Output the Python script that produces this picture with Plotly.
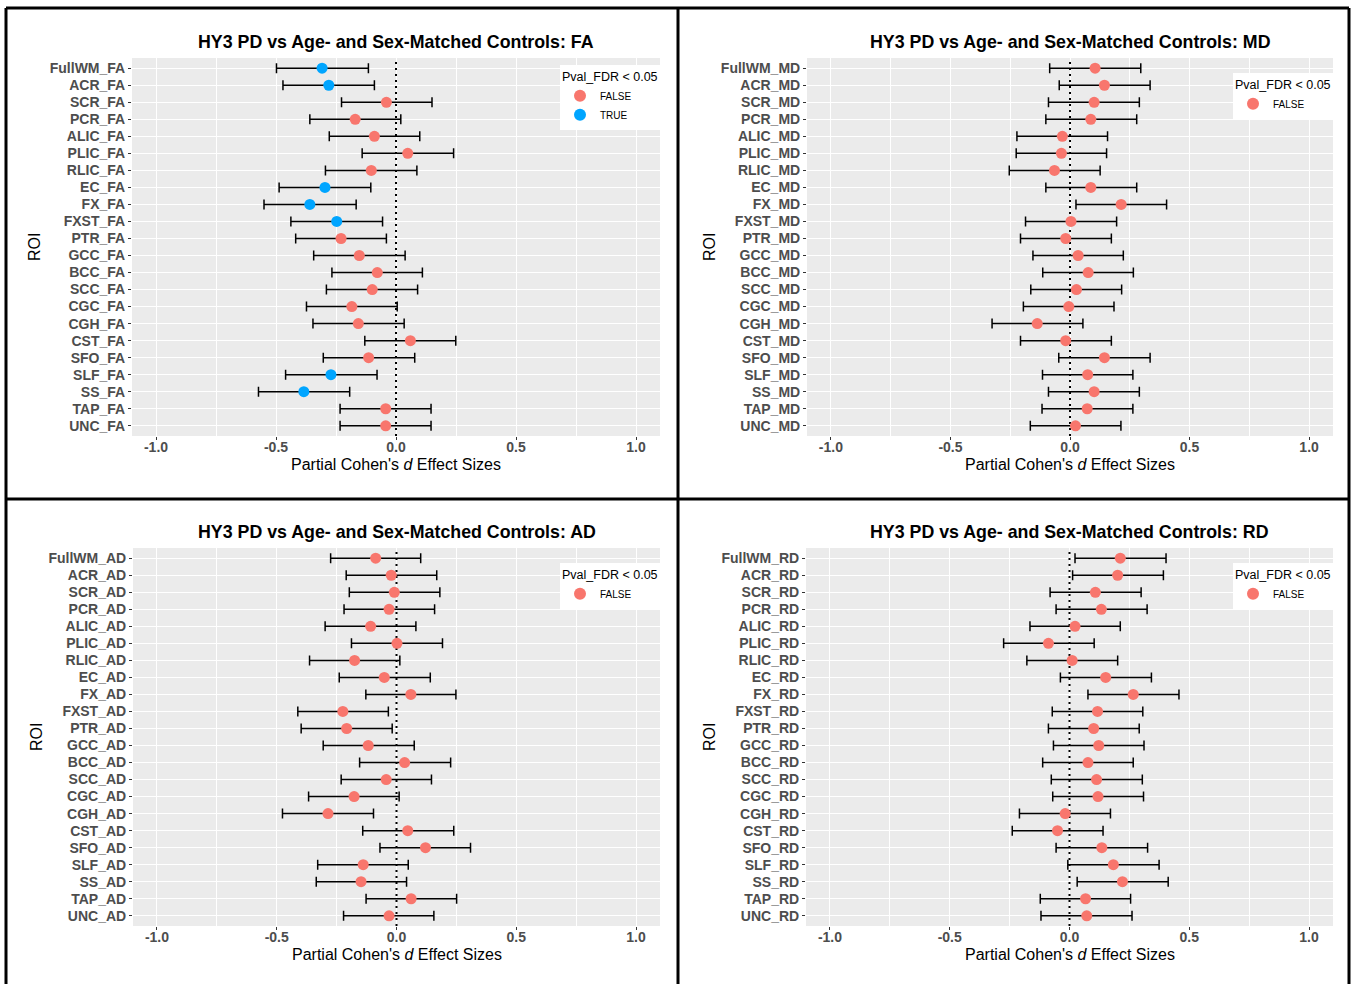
import plotly.graph_objects as go

# ---------------- data ----------------
roi_names = ["FullWM", "ACR", "SCR", "PCR", "ALIC", "PLIC", "RLIC", "EC", "FX", "FXST",
             "PTR", "GCC", "BCC", "SCC", "CGC", "CGH", "CST", "SFO", "SLF", "SS", "TAP", "UNC"]

fa_d = [-0.308, -0.280, -0.040, -0.170, -0.090, 0.049, -0.103, -0.296, -0.359, -0.247, -0.229,
        -0.153, -0.078, -0.099, -0.184, -0.157, 0.060, -0.114, -0.271, -0.384, -0.043, -0.043]
fa_lo = [-0.498, -0.471, -0.227, -0.359, -0.278, -0.141, -0.294, -0.487, -0.550, -0.438, -0.418,
         -0.343, -0.267, -0.290, -0.373, -0.346, -0.130, -0.303, -0.460, -0.573, -0.233, -0.233]
fa_hi = [-0.115, -0.090, 0.150, 0.020, 0.099, 0.240, 0.087, -0.105, -0.166, -0.056, -0.040,
         0.038, 0.110, 0.090, 0.005, 0.034, 0.249, 0.078, -0.079, -0.193, 0.146, 0.146]
fa_sig = [True, True, False, False, False, False, False, True, True, True, False,
          False, False, False, False, False, False, False, True, True, False, False]

md_d = [0.105, 0.144, 0.101, 0.087, -0.032, -0.036, -0.065, 0.087, 0.214, 0.004, -0.018,
        0.034, 0.076, 0.027, -0.005, -0.137, -0.018, 0.144, 0.074, 0.101, 0.072, 0.023]
md_lo = [-0.085, -0.045, -0.090, -0.101, -0.222, -0.225, -0.254, -0.101, 0.025, -0.186, -0.207,
         -0.155, -0.114, -0.164, -0.195, -0.326, -0.207, -0.047, -0.115, -0.090, -0.117, -0.166]
md_hi = [0.296, 0.335, 0.290, 0.279, 0.157, 0.153, 0.126, 0.279, 0.404, 0.195, 0.173,
         0.223, 0.265, 0.216, 0.184, 0.054, 0.173, 0.335, 0.263, 0.290, 0.263, 0.213]
md_sig = [False] * 22

ad_d = [-0.087, -0.022, -0.009, -0.031, -0.108, 0.002, -0.175, -0.051, 0.060, -0.224, -0.208,
        -0.118, 0.034, -0.043, -0.177, -0.286, 0.047, 0.121, -0.139, -0.148, 0.061, -0.031]
ad_lo = [-0.275, -0.210, -0.197, -0.219, -0.298, -0.188, -0.363, -0.239, -0.128, -0.412, -0.398,
         -0.306, -0.154, -0.231, -0.367, -0.476, -0.141, -0.069, -0.329, -0.335, -0.127, -0.221]
ad_hi = [0.101, 0.168, 0.181, 0.159, 0.081, 0.192, 0.014, 0.141, 0.248, -0.034, -0.018,
         0.074, 0.226, 0.146, 0.011, -0.096, 0.239, 0.309, 0.049, 0.042, 0.251, 0.156]
ad_sig = [False] * 22

rd_d = [0.212, 0.201, 0.108, 0.133, 0.023, -0.088, 0.011, 0.151, 0.266, 0.117, 0.101,
        0.122, 0.077, 0.113, 0.119, -0.018, -0.050, 0.135, 0.183, 0.221, 0.067, 0.072]
rd_lo = [0.023, 0.013, -0.081, -0.056, -0.165, -0.275, -0.178, -0.038, 0.077, -0.072, -0.088,
         -0.067, -0.112, -0.076, -0.070, -0.209, -0.239, -0.056, -0.007, 0.032, -0.122, -0.119]
rd_hi = [0.403, 0.392, 0.299, 0.324, 0.212, 0.103, 0.201, 0.342, 0.457, 0.306, 0.291,
         0.311, 0.266, 0.304, 0.309, 0.171, 0.140, 0.326, 0.374, 0.412, 0.255, 0.261]
rd_sig = [False] * 22

x_ticks = [-1.0, -0.5, 0.0, 0.5, 1.0]
x_tick_text = ["-1.0", "-0.5", "0.0", "0.5", "1.0"]
ref_x = 0.0  # null effect

# ---------------- layout geometry (pixels) ----------------
W, H = 1351, 984
FONT = "Liberation Sans, Arial, Helvetica, sans-serif"
COL_FALSE = "#F8766D"
COL_TRUE = "#00A5FF"

panels = [
    # metric, data, plot box (x0, x1, y0, y1), legend top-right (x, y)
    ("FA", fa_d, fa_lo, fa_hi, fa_sig, (132, 660, 58, 436), (660, 65)),
    ("MD", md_d, md_lo, md_hi, md_sig, (807, 1333, 58, 436), (1333, 73)),
    ("AD", ad_d, ad_lo, ad_hi, ad_sig, (133, 660, 548, 926), (660, 563)),
    ("RD", rd_d, rd_lo, rd_hi, rd_sig, (806, 1333, 548, 926), (1333, 563)),
]


def px(x):
    return x / W


def py(y):
    return 1 - y / H


fig = go.Figure()
layout = dict(
    width=W, height=H,
    margin=dict(l=0, r=0, t=0, b=0),
    paper_bgcolor="white",
    plot_bgcolor="#EBEBEB",
    font=dict(family=FONT),
    showlegend=True,
)
annotations = []
shapes = []

for i, (metric, d, lo, hi, sig, box, leg) in enumerate(panels, start=1):
    x0, x1, y0, y1 = box
    sfx = "" if i == 1 else str(i)
    xref, yref = "x" + sfx, "y" + sfx
    legend_id = "legend" + sfx
    labels = [f"{r}_{metric}" for r in roi_names]
    ypos = list(range(len(labels)))
    y_range = [len(labels) - 0.4, -0.6]

    # dotted reference line at zero (drawn first so points sit on top)
    fig.add_trace(go.Scatter(
        x=[ref_x, ref_x], y=y_range, mode="lines",
        line=dict(color="black", width=2, dash="2px,4px"),
        showlegend=False, hoverinfo="skip",
        xaxis=xref, yaxis=yref,
    ))

    for flag, colour in ((False, COL_FALSE), (True, COL_TRUE)):
        idx = [k for k, s in enumerate(sig) if s == flag]
        if not idx:
            continue
        fig.add_trace(go.Scatter(
            x=[d[k] for k in idx],
            y=[ypos[k] for k in idx],
            text=[labels[k] for k in idx],
            mode="markers",
            name="TRUE" if flag else "FALSE",
            marker=dict(color=colour, size=11, line=dict(width=0)),
            error_x=dict(type="data", symmetric=False,
                         array=[hi[k] - d[k] for k in idx],
                         arrayminus=[d[k] - lo[k] for k in idx],
                         color="black", thickness=1.5, width=5),
            xaxis=xref, yaxis=yref,
            legend=legend_id,
        ))

    layout["xaxis" + sfx] = dict(
        domain=[px(x0), px(x1)], anchor=yref,
        range=[-1.1, 1.1], tickmode="array", tickvals=x_ticks, ticktext=x_tick_text,
        ticks="outside", ticklen=3, tickwidth=1.1, tickcolor="#333333",
        ticklabelstandoff=-5,
        tickfont=dict(size=14, color="#4D4D4D", family=FONT, weight="bold"),
        showgrid=True, gridcolor="white", gridwidth=1.3,
        minor=dict(tickvals=[-0.75, -0.25, 0.25, 0.75], showgrid=True,
                   gridcolor="white", gridwidth=0.6, ticks=""),
        zeroline=False, showline=False, fixedrange=True,
    )
    layout["yaxis" + sfx] = dict(
        domain=[py(y1), py(y0)], anchor=xref,
        range=y_range, tickmode="array", tickvals=ypos, ticktext=labels,
        ticks="outside", ticklen=3, tickwidth=1.1, tickcolor="#333333",
        tickfont=dict(size=14, color="#4D4D4D", family=FONT, weight="bold"),
        showgrid=True, gridcolor="white", gridwidth=1.3,
        zeroline=False, showline=False, fixedrange=True,
    )
    layout[legend_id] = dict(
        x=px(leg[0]), y=py(leg[1]), xanchor="right", yanchor="top",
        xref="paper", yref="paper",
        bgcolor="white", borderwidth=0,
        title=dict(text="Pval_FDR < 0.05", font=dict(size=12.5, color="black", family=FONT)),
        font=dict(size=10, color="black", family=FONT),
        itemsizing="constant",
    )

    cx = (x0 + x1) / 2
    annotations.append(dict(
        text=f"<b>HY3 PD vs Age- and Sex-Matched Controls: {metric}</b>",
        x=px(cx), y=py(y0 - 16), xref="paper", yref="paper",
        xanchor="center", yanchor="middle", showarrow=False,
        font=dict(size=17.8, color="black", family=FONT)))
    annotations.append(dict(
        text="Partial Cohen's <i>d</i> Effect Sizes",
        x=px(cx), y=py(y1 + 28), xref="paper", yref="paper",
        xanchor="center", yanchor="middle", showarrow=False,
        font=dict(size=16, color="black", family=FONT)))
    annotations.append(dict(
        text="ROI", textangle=-90,
        x=px(x0 - 97), y=py((y0 + y1) / 2), xref="paper", yref="paper",
        xanchor="center", yanchor="middle", showarrow=False,
        font=dict(size=16, color="black", family=FONT)))

# quadrant frame
frame = dict(color="black", width=3)
shapes += [
    dict(type="line", xref="paper", yref="paper", x0=px(6), x1=px(1349), y0=py(8), y1=py(8), line=frame),
    dict(type="line", xref="paper", yref="paper", x0=px(6), x1=px(6), y0=py(8), y1=py(984), line=frame),
    dict(type="line", xref="paper", yref="paper", x0=px(1349), x1=px(1349), y0=py(8), y1=py(984), line=frame),
    dict(type="line", xref="paper", yref="paper", x0=px(678), x1=px(678), y0=py(8), y1=py(984), line=frame),
    dict(type="line", xref="paper", yref="paper", x0=px(6), x1=px(1349), y0=py(499), y1=py(499), line=frame),
]

layout["annotations"] = annotations
layout["shapes"] = shapes
fig.update_layout(**layout)

fig.write_html("out.html")
